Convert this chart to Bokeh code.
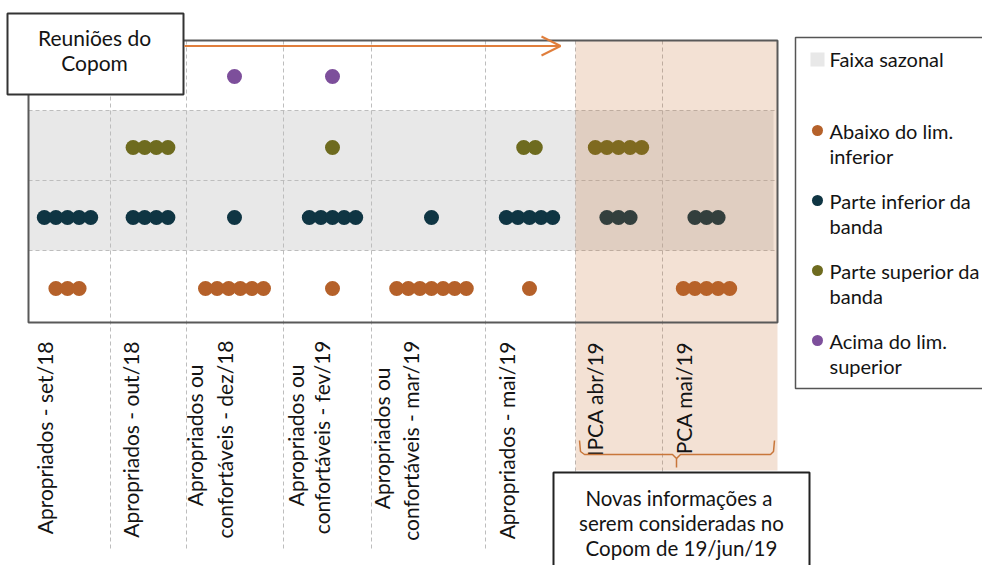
import numpy as np
from bokeh.plotting import figure
from bokeh.models import Range1d, Arrow, OpenHead
from bokeh.core.properties import value
from bokeh.embed import file_html
from bokeh.resources import INLINE

# ---------------- DATA ----------------
category_lines = [
    ["Apropriados - set/18"],
    ["Apropriados - out/18"],
    ["Apropriados ou", "confortáveis - dez/18"],
    ["Apropriados ou", "confortáveis - fev/19"],
    ["Apropriados ou", "confortáveis - mar/19"],
    ["Apropriados - mai/19"],
    ["IPCA abr/19"],
    ["PCA mai/19"],
]
# number of dots per category, for each position relative to the seasonal band
abaixo_lim_inferior = [3, 0, 6, 1, 7, 1, 0, 5]
parte_inferior_banda = [5, 4, 1, 5, 1, 5, 3, 3]
parte_superior_banda = [0, 4, 0, 1, 0, 2, 5, 0]
acima_lim_superior = [0, 0, 1, 1, 0, 0, 0, 0]

legend_band = "Faixa sazonal"
legend_lines = [
    ["Abaixo do lim.", "inferior"],
    ["Parte inferior da", "banda"],
    ["Parte superior da", "banda"],
    ["Acima do lim.", "superior"],
]
box_reunioes = ["Reuniões do", "Copom"]
box_novas = ["Novas  informações a", "serem consideradas no", "Copom de 19/jun/19"]

# ---------------- LAYOUT / STYLE ----------------
W, H = 982, 565
def sy(y):
    return H - y

col_edges = [28, 110, 186, 283, 371, 485, 575, 662, 777]
cat_x = [67, 150, 234, 332, 431, 529, 618, 706]
row_edges = [40, 110, 180, 250, 322]
row_centers = [288, 217, 147, 76]  # abaixo, inf, sup, acima
dot_step = 11.6
dot_size = 15
colors = ["#B5612A", "#0F3543", "#6E6B1F", "#7D4F9B"]
FONT = value("Lato")
TXT = "#141414"

p = figure(width=W, height=H, x_range=Range1d(0, W), y_range=Range1d(0, H),
           output_backend="svg", toolbar_location=None, min_border=0,
           x_axis_location=None, y_axis_location=None)
p.outline_line_color = None
p.background_fill_color = "white"
p.border_fill_color = "white"
for g in p.grid:
    g.visible = False

# seasonal band
p.quad(left=[col_edges[0]], right=[col_edges[-1] - 4], top=[sy(row_edges[1])], bottom=[sy(row_edges[3])],
       fill_color="#E8E8E8", line_color=None)

# dashed grid lines
grid_col = "#BDBDBD"
for ry in row_edges[1:4]:
    p.line([col_edges[0], col_edges[-1]], [sy(ry), sy(ry)], line_color=grid_col, line_dash="4 3", line_width=1)
for cx in col_edges[1:-1]:
    p.line([cx, cx], [sy(row_edges[0]), sy(550)], line_color=grid_col, line_dash="4 3", line_width=1)

# dots
series = [abaixo_lim_inferior, parte_inferior_banda, parte_superior_banda, acima_lim_superior]
for counts, ry, c in zip(series, row_centers, colors):
    xs, ys = [], []
    for cx, n in zip(cat_x, counts):
        for i in range(n):
            xs.append(cx + (i - (n - 1) / 2) * dot_step)
            ys.append(sy(ry))
    p.scatter(xs, ys, size=dot_size, fill_color=c, line_color=None)

# peach overlay for new information
p.quad(left=[col_edges[6]], right=[col_edges[-1]], top=[sy(row_edges[0])], bottom=[sy(470)],
       fill_color="#C3692A", fill_alpha=0.2, line_color=None)

# frame
p.quad(left=[col_edges[0]], right=[col_edges[-1]], top=[sy(row_edges[0])], bottom=[sy(row_edges[-1])],
       fill_color=None, line_color="#595959", line_width=2)

# category labels (rotated)
lab_x, lab_y, lab_t = [], [], []
line_pos = [
    [(44, 341)],
    [(130, 341)],
    [(194, 364), (224, 340)],
    [(295, 364), (321, 340)],
    [(381, 367), (410, 340)],
    [(506, 341)],
    [(594, 341)],
    [(683, 341)],
]
for lines, pos in zip(category_lines, line_pos):
    for t, (lx, ly) in zip(lines, pos):
        lab_x.append(lx); lab_y.append(sy(ly)); lab_t.append(t)
p.text(x=lab_x, y=lab_y, text=lab_t, angle=np.pi / 2, text_align="right", text_baseline="middle",
       text_font=FONT, text_font_size="21px", text_color=TXT)

# bracket
br = "#C8763A"
p.line([579, 580, 584, 672, 676, 676], [sy(440), sy(451), sy(454), sy(454), sy(458), sy(467)],
       line_color=br, line_width=1.5)
p.line([676, 680, 770, 773, 774], [sy(458), sy(454), sy(454), sy(451), sy(440)],
       line_color=br, line_width=1.5)

# "Novas informações" box
p.quad(left=[553], right=[809], top=[sy(472)], bottom=[sy(600)], fill_color="white",
       line_color="#222222", line_width=2)
p.text(x=[681] * 3, y=[sy(497), sy(522), sy(547)], text=box_novas, text_align="center",
       text_baseline="middle", text_font=FONT, text_font_size="20.5px", text_color=TXT)

# "Reuniões do Copom" box
p.quad(left=[7], right=[183], top=[sy(13)], bottom=[sy(94)], fill_color="white",
       line_color="#333333", line_width=2)
p.text(x=[94, 94], y=[sy(37), sy(62)], text=box_reunioes, text_align="center",
       text_baseline="middle", text_font=FONT, text_font_size="21px", text_color=TXT)

# arrow
p.add_layout(Arrow(end=OpenHead(size=19, line_color="#E07E3C", line_width=2),
                   x_start=184, y_start=sy(45.5), x_end=560, y_end=sy(45.5),
                   line_color="#E07E3C", line_width=2))

# legend box
p.quad(left=[795], right=[1000], top=[sy(37)], bottom=[sy(388)], fill_color="white",
       line_color="#555555", line_width=1.5)
p.quad(left=[810], right=[824], top=[sy(52)], bottom=[sy(66)], fill_color="#E8E8E8", line_color=None)
leg_x, leg_y, leg_t = [829], [sy(58)], [legend_band]
leg_dot_y = [130, 200, 270, 340]
for lines, ly in zip(legend_lines, leg_dot_y):
    leg_x += [829, 829]
    leg_y += [sy(ly), sy(ly + 25)]
    leg_t += lines
p.scatter([817] * 4, [sy(v) for v in leg_dot_y], size=11, fill_color=colors, line_color=None)
p.text(x=leg_x, y=leg_y, text=leg_t, text_align="left", text_baseline="middle",
       text_font=FONT, text_font_size="20px", text_color=TXT)

open("out.html", "w").write(file_html(p, INLINE))
